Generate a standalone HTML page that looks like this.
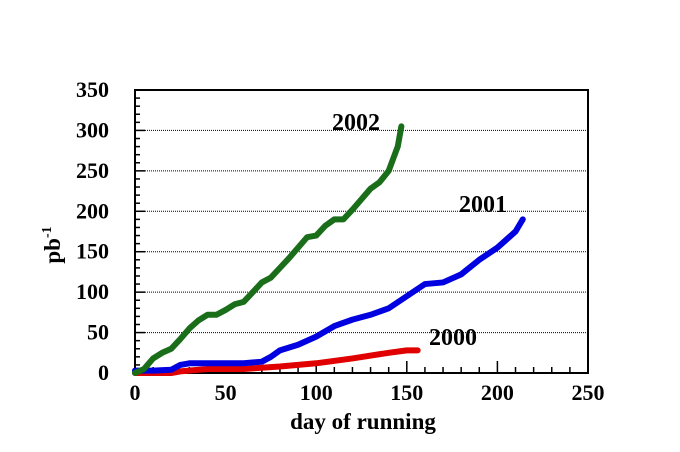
<!DOCTYPE html>
<html><head><meta charset="utf-8"><style>
body{margin:0;background:#fff}
text{font-family:"Liberation Serif",serif;font-weight:bold}
</style></head><body>
<svg id="c" width="680" height="447" xmlns="http://www.w3.org/2000/svg"></svg>
<script>
const xTicks=[0,50,100,150,200,250];
const yTicks=[0,50,100,150,200,250,300,350];
const days2002=[0,5,10,15,20,25,30,35,40,45,50,55,60,65,70,75,80,85,90,95,100,105,110,115,120,125,130,135,140,145,147];
const lumi2002=[0,5,18,25,30,42,55,65,72,72,78,85,88,100,112,118,130,142,155,168,170,182,190,190,202,215,228,236,250,280,305];
const days2001=[0,10,20,25,30,40,50,60,70,75,80,90,100,110,120,130,140,150,160,170,180,190,200,210,214];
const lumi2001=[3,3,4,10,12,12,12,12,14,20,28,35,45,58,66,72,80,95,110,112,122,140,155,175,190];
const days2000=[0,10,20,25,40,60,80,100,120,140,150,156];
const lumi2000=[0,0,0,2,5,5,8,12,18,25,28,28];
const L=135,R=588,T=90,B=373;
const X=d=>L+d*(R-L)/250, Y=v=>B-v*(B-T)/350;
const svg=document.getElementById('c');const NS='http://www.w3.org/2000/svg';
function mk(t,a,p){const e=document.createElementNS(NS,t);for(const k in a)e.setAttribute(k,a[k]);(p||svg).appendChild(e);return e;}
yTicks.forEach(v=>{if(v>0&&v<350){const g=mk('line',{x1:L,x2:R,y1:Y(v),y2:Y(v),stroke:'#000','stroke-width':1,'stroke-dasharray':'1,1'});

}
const t=mk('text',{x:109,y:Y(v)+7,'text-anchor':'end','font-size':22});t.textContent=v;

});
for(let v=0;v<=350;v+=10){const len=v%50===0?10:5;const tk=mk('line',{x1:L,x2:L+len,y1:Y(v),y2:Y(v),stroke:'#000','stroke-width':1.5});

}
for(let d=0;d<=250;d+=10){const len=d%50===0?12:6;const tk=mk('line',{x1:X(d),x2:X(d),y1:B,y2:B-len,stroke:'#000','stroke-width':1.5});

}
xTicks.forEach(d=>{const t=mk('text',{x:X(d),y:B+27,'text-anchor':'middle','font-size':22});t.textContent=d;

});
const fr=mk('rect',{x:L,y:T,width:R-L,height:B-T,fill:'none',stroke:'#000','stroke-width':2});


function series(ds,vs,col,name){const p=mk('polyline',{points:ds.map((d,i)=>X(d)+','+Y(vs[i])).join(' '),fill:'none',stroke:col,'stroke-width':6,'stroke-linejoin':'round','stroke-linecap':'round'});

}
series(days2000,lumi2000,'#e00000','series-2000');
series(days2001,lumi2001,'#0000e0','series-2001');
series(days2002,lumi2002,'#1a6e1a','series-2002');
function lab(x,y,s,n,fs,extra){const t=mk('text',Object.assign({x:x,y:y,'font-size':fs},extra||{}));t.textContent=s;

return t;}
lab(332,130,'2002','label-2002',24);
lab(459,212,'2001','label-2001',24);
lab(429,345,'2000','label-2000',24);
lab(363,429,'day of running','x-axis-title',23,{'text-anchor':'middle'});
const yt=mk('text',{x:0,y:0,'font-size':23,transform:'translate(60,245) rotate(-90)','text-anchor':'middle'});


yt.innerHTML='pb<tspan font-size="14" dy="-9">-1</tspan>';
</script>
</body></html>
